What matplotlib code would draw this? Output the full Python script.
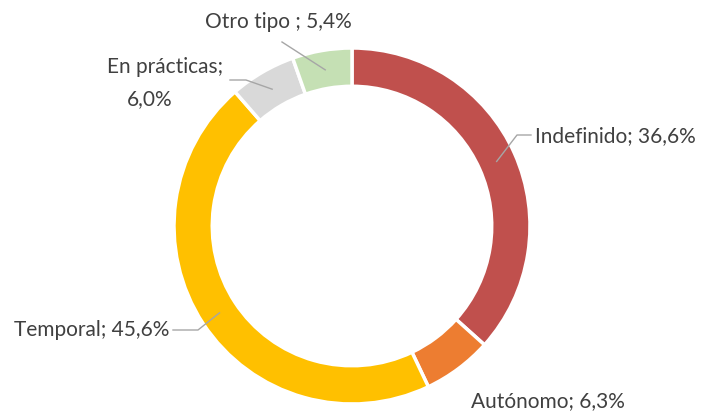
import matplotlib.pyplot as plt
import numpy as np

labels = ['Indefinido', 'Autónomo', 'Temporal', 'En prácticas', 'Otro tipo']
values = [36.6, 6.3, 45.6, 6.0, 5.4]
colors = ['#C0504D', '#ED7D31', '#FFC000', '#D9D9D9', '#C5E0B4']

plt.rcParams['font.family'] = ['Lato', 'DejaVu Sans']

W, H = 701, 412
cx, cy, R = 352, 226, 178

fig = plt.figure(figsize=(W / 100, H / 100), dpi=100)
ax = fig.add_axes([(cx - R) / W, (H - cy - R) / H, 2 * R / W, 2 * R / H])
ax.pie(values, colors=colors, startangle=90, counterclock=False, radius=1,
       wedgeprops=dict(width=0.215, edgecolor='white', linewidth=2.5))
ax.set_xlim(-1, 1)
ax.set_ylim(-1, 1)
ax.set_aspect('equal')
ax.axis('off')


def px(x, y):
    return (x - cx) / R, (cy - y) / R


# middle angle of each wedge
tot = sum(values)
mids = []
acc = 0
for v in values:
    mids.append(np.deg2rad(90 - (acc + v / 2) / tot * 360))
    acc += v


def start(i, r=0.89):
    return r * np.cos(mids[i]), r * np.sin(mids[i])


lc = '#A6A6A6'
tc = '#404040'
fs = 15

def leader(i, pts):
    x0, y0 = start(i)
    xs = [x0] + [px(*p)[0] for p in pts]
    ys = [y0] + [px(*p)[1] for p in pts]
    ax.plot(xs, ys, color=lc, lw=1, clip_on=False)

def pct(v):
    return f'{v:.1f}%'.replace('.', ',')

# Indefinido
leader(0, [(517, 135), (531, 135)])
ax.text(*px(535, 136), f'{labels[0]}; {pct(values[0])}',
        fontsize=fs, color=tc, ha='left', va='center')

# Autónomo
ax.text(*px(471, 401), f'{labels[1]}; {pct(values[1])}',
        fontsize=fs, color=tc, ha='left', va='center', clip_on=False)

# Temporal
leader(2, [(198, 330), (173, 330)])
ax.text(*px(169, 330), f'{labels[2]}; {pct(values[2])}',
        fontsize=fs, color=tc, ha='right', va='center')

# En prácticas
leader(3, [(246, 80), (230, 80)])
ax.text(*px(165, 67), f'{labels[3]};', fontsize=fs, color=tc, ha='center', va='center')
ax.text(*px(150, 99), pct(values[3]), fontsize=fs, color=tc,
        ha='center', va='center')

# Otro tipo
leader(4, [(282, 42)])
ax.text(*px(278, 22), f'{labels[4]} ; {pct(values[4])}',
        fontsize=fs, color=tc, ha='center', va='center')

fig.savefig('out.png', dpi=100)
